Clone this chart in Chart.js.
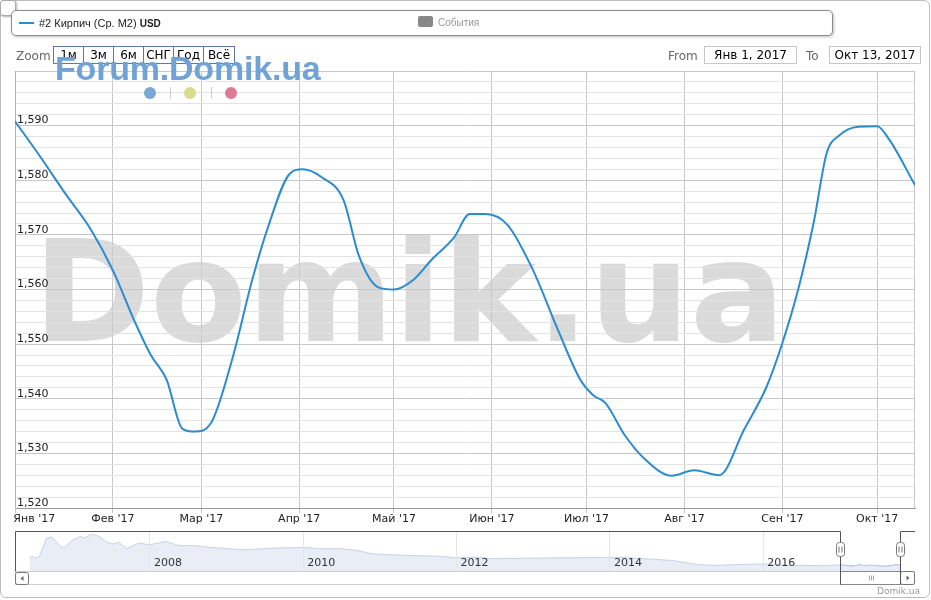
<!DOCTYPE html>
<html>
<head>
<meta charset="utf-8">
<script src="https://cdn.jsdelivr.net/npm/chart.js@4.4.1/dist/chart.umd.min.js"></script>
<style>
  body { margin: 0; background: #fff; font-family: "DejaVu Sans", sans-serif; }
  #wrap { position: relative; width: 931px; height: 600px; overflow: hidden; }
  #frame { position: absolute; left: 0; top: 0; width: 930px; height: 598px; box-sizing: border-box;
           border: 1px solid #bdbdbd; border-radius: 6px; }
  canvas { position: absolute; left: 0; }
  #priceChart { top: 0; }
  #navChart { top: 528px; }
  #corner { position: absolute; left: 0; top: 0; width: 16px; height: 16px; box-sizing: border-box;
            border: 1px solid #aaa; border-radius: 3px; background: #fff; box-shadow: 1px 1px 2px rgba(0,0,0,.3); }
  #legend { position: absolute; left: 11px; top: 10px; width: 822px; height: 26px; box-sizing: border-box;
            border: 1px solid #8c8c8c; border-radius: 5px; background: #fff; box-shadow: 1px 1px 3px rgba(0,0,0,.25);
            font-family: "Liberation Sans", Arial, sans-serif; }
  #legend .swatch { position: absolute; left: 7px; top: 11px; width: 15px; height: 2px; background: #2b8cd0; }
  #legend .name { position: absolute; left: 27px; top: 5px; font-size: 11px; line-height: 14px; color: #222; }
  #legend .name b { font-size: 10px; }
  #legend .ev-box { position: absolute; left: 406px; top: 5px; width: 15px; height: 11px; border-radius: 2px; background: #888; }
  #legend .ev { position: absolute; left: 426px; top: 5px; font-size: 10px; line-height: 14px; color: #999; }
  .lbl { position: absolute; top: 49px; font-size: 12px; line-height: 15px; color: #666; }
  .btn { position: absolute; top: 46px; height: 18px; box-sizing: border-box; border: 1px solid #5b7ba6;
         font-size: 12px; line-height: 16px; text-align: center; color: #000; background: #fff; }
  .inp { position: absolute; top: 46px; height: 18px; box-sizing: border-box; border: 1px solid #c8c8c8;
         font-size: 12px; line-height: 16px; text-align: center; color: #000; background: #fff; }
  #forum { position: absolute; left: 55px; top: 51px; font: bold 34px/34px "Liberation Sans", Arial, sans-serif;
           color: #6fa2d6; white-space: nowrap; letter-spacing: -0.2px; }
  .dot { position: absolute; top: 87px; width: 12px; height: 12px; border-radius: 6px; }
  .sep { position: absolute; top: 87px; width: 1px; height: 12px; background: #ccc; }
  #credit { position: absolute; right: 11px; top: 585px; font-size: 9px; line-height: 12px; color: #999; }
</style>
</head>
<body>
<div id="wrap">
  <div id="frame"></div>
  <canvas id="priceChart" width="931" height="530"></canvas>
  <canvas id="navChart" width="931" height="72"></canvas>
  <div id="corner"></div>

  <div id="legend">
    <div class="swatch"></div>
    <div class="name">#2 Кирпич (Ср. М2) <b>USD</b></div>
    <div class="ev-box"></div>
    <div class="ev">События</div>
  </div>

  <div class="lbl" style="left:16px">Zoom</div>
  <div class="btn" style="left:53px;width:31px">1м</div>
  <div class="btn" style="left:83px;width:31px">3м</div>
  <div class="btn" style="left:113px;width:31px">6м</div>
  <div class="btn" style="left:143px;width:31px">СНГ</div>
  <div class="btn" style="left:173px;width:31px">Год</div>
  <div class="btn" style="left:203px;width:32px">Всё</div>

  <div class="lbl" style="left:668px">From</div>
  <div class="inp" style="left:704px;width:93px">Янв 1, 2017</div>
  <div class="lbl" style="left:806px">To</div>
  <div class="inp" style="left:829px;width:92px">Окт 13, 2017</div>

  <div id="forum">Forum.Domik.ua</div>
  <div class="dot" style="left:144px;background:#7aa7d6"></div>
  <div class="sep" style="left:170px"></div>
  <div class="dot" style="left:184px;background:#d8dc8c"></div>
  <div class="sep" style="left:211px"></div>
  <div class="dot" style="left:225px;background:#dd7b97"></div>

  <div id="credit">Domik.ua</div>
</div>

<script>
// price of brick, USD per m2, 2017
const dates = ['2017-01-01', '2017-01-09', '2017-01-17', '2017-01-25', '2017-02-01', '2017-02-08',
  '2017-02-13', '2017-02-18', '2017-02-23', '2017-02-27', '2017-03-04', '2017-03-11', '2017-03-17',
  '2017-03-22', '2017-03-29', '2017-04-02', '2017-04-08', '2017-04-15', '2017-04-20', '2017-04-26',
  '2017-05-01', '2017-05-07', '2017-05-13', '2017-05-20', '2017-05-25', '2017-05-30', '2017-06-06',
  '2017-06-14', '2017-06-22', '2017-06-29', '2017-07-03', '2017-07-07', '2017-07-13', '2017-07-19',
  '2017-07-28', '2017-08-04', '2017-08-12', '2017-08-20', '2017-08-27', '2017-09-01', '2017-09-06',
  '2017-09-11', '2017-09-15', '2017-09-19', '2017-09-25', '2017-10-01', '2017-10-05', '2017-10-13'];
const prices = [1590.8, 1584.3, 1577.5, 1571.0, 1563.5, 1554.0,
  1548.0, 1543.5, 1534.5, 1534.0, 1535.5, 1547.7, 1561.5,
  1571.2, 1581.2, 1582.0, 1580.6, 1576.4, 1566.0, 1560.4,
  1560.0, 1561.7, 1565.5, 1569.5, 1573.8, 1573.8, 1571.8,
  1563.6, 1552.5, 1543.5, 1540.7, 1539.2, 1533.4, 1529.2,
  1525.9, 1526.9, 1526.0, 1534.5, 1542.2, 1550.2, 1560.0,
  1572.5, 1584.9, 1588.2, 1589.8, 1589.9, 1587.3, 1579.1];

// x axis: month ticks
const monthTicks = ['2017-01-01', '2017-02-01', '2017-03-01', '2017-04-01', '2017-05-01',
  '2017-06-01', '2017-07-01', '2017-08-01', '2017-09-01', '2017-10-01'];
const monthLabels = ["Янв '17", "Фев '17", "Мар '17", "Апр '17", "Май '17",
  "Июн '17", "Июл '17", "Авг '17", "Сен '17", "Окт '17"];
const rangeFrom = '2017-01-01';
const rangeTo = '2017-10-13';
const yMin = 1520, yMax = 1600, yStep = 2, yMajor = 10;

// navigator: long history (decimal years), USD estimates
const historyYears = [2006.43, 2006.46, 2006.50, 2006.56, 2006.65, 2006.72, 2006.85, 2006.89, 2006.98,
  2007.09, 2007.15, 2007.24, 2007.31, 2007.46, 2007.52, 2007.59, 2007.70, 2007.85, 2008.00, 2008.20,
  2008.39, 2008.56, 2008.78, 2009.22, 2009.65, 2010.00, 2010.22, 2010.48, 2010.70, 2010.91, 2011.39,
  2011.82, 2012.00, 2012.26, 2012.48, 2013.13, 2014.13, 2014.50, 2014.80, 2015.15, 2015.37, 2015.98,
  2016.37, 2016.80];
const historyPrices = [1945, 2025, 1945, 2025, 2945, 2995, 2475, 2475, 2825,
  3025, 2945, 3145, 3075, 2695, 2645, 2745, 2410, 2695, 2610, 2775,
  2560, 2575, 2475, 2360, 2445, 2475, 2410, 2410, 2325, 2145, 2075,
  2025, 1945, 1995, 1910, 1945, 1975, 1895, 1825, 1610, 1575, 1645,
  1575, 1560];
const navYears = [2008, 2010, 2012, 2014, 2016];
const navRange = [2006.24, 2017.98];
const navPriceRange = [1290, 3300];

// helpers
const toDay = s => Date.UTC(+s.slice(0, 4), +s.slice(5, 7) - 1, +s.slice(8, 10)) / 864e5;
const toYear = s => +s.slice(0, 4) + (toDay(s) - toDay(s.slice(0, 4) + '-01-01')) / 365;

const font11 = { family: 'DejaVu Sans', size: 11 };

// big grey watermark behind the grid
const watermark = {
  id: 'watermark',
  beforeDraw(chart) {
    const c = chart.ctx;
    c.save();
    c.font = 'bold 141px "DejaVu Sans"';
    c.fillStyle = '#dadada';
    c.fillText('Domik.ua', 33, 341);
    c.restore();
  }
};

// right edge of the plot
const plotBorder = {
  id: 'plotBorder',
  beforeDatasetsDraw(chart) {
    const c = chart.ctx, a = chart.chartArea;
    c.save();
    c.strokeStyle = '#c8c8c8';
    c.beginPath();
    c.moveTo(Math.round(a.right) - 0.5, a.top);
    c.lineTo(Math.round(a.right) - 0.5, a.bottom);
    c.stroke();
    c.restore();
  }
};

let mainCtx = document.getElementById('priceChart').getContext('2d');
let priceChart = new Chart(mainCtx, {
  type: 'line',
  data: {
    datasets: [{
      label: '#2 Кирпич (Ср. М2) USD',
      data: dates.map((d, i) => ({ x: toDay(d), y: prices[i] })),
      borderColor: '#2b8cd0',
      borderWidth: 2,
      pointRadius: 0,
      cubicInterpolationMode: 'monotone',
      fill: false
    }]
  },
  options: {
    responsive: false,
    animation: false,
    layout: { autoPadding: false, padding: { left: 15, right: 16, top: 71, bottom: 0 } },
    plugins: { legend: { display: false }, tooltip: { enabled: false } },
    scales: {
      x: {
        type: 'linear',
        min: toDay(rangeFrom),
        max: toDay(rangeTo),
        afterBuildTicks: s => { s.ticks = monthTicks.map(d => ({ value: toDay(d) })); },
        afterFit: s => { s.height = 22; s.paddingLeft = 0; s.paddingRight = 0; },
        grid: { color: '#c8c8c8', tickLength: 5, tickColor: '#c8c8c8' },
        border: { color: '#999' },
        ticks: {
          padding: 0, maxRotation: 0, autoSkip: false, color: '#222', font: font11,
          // first label is pushed right so it stays inside the frame
          callback: (v, i) => i === 0 ? '\u2002'.repeat(7) + monthLabels[0] : monthLabels[i]
        }
      },
      y: {
        min: yMin,
        max: yMax,
        afterFit: s => { s.width = 0; s.paddingTop = 0; s.paddingBottom = 0; },
        grid: {
          drawTicks: false,
          color: c => (c.tick && c.tick.value % yMajor === 0) ? '#c8c8c8' : '#e2e2e2'
        },
        border: { color: '#b4b4b4' },
        ticks: {
          stepSize: yStep, mirror: true, padding: 2, labelOffset: -5, autoSkip: false,
          color: '#222', font: font11,
          callback: v => (v % yMajor === 0 && v < yMax) ? v.toLocaleString('en-US') : ''
        }
      }
    }
  },
  plugins: [watermark, plotBorder]
});

// navigator handles, outline and scrollbar
const navChrome = {
  id: 'navChrome',
  afterDraw(chart) {
    const c = chart.ctx, a = chart.chartArea, xs = chart.scales.x;
    const h1 = Math.round(xs.getPixelForValue(toYear(rangeFrom))) + 0.5;
    const h2 = Math.round(xs.getPixelForValue(toYear(rangeTo))) + 0.5;
    const left = Math.round(a.left) + 0.5, right = Math.round(a.right) - 0.5;
    const top = Math.round(a.top) + 0.5, bot = Math.round(a.bottom) + 0.5;
    const sbBot = bot + 13;
    c.save();
    c.lineWidth = 1;

    // scrollbar track
    c.strokeStyle = '#cfcfcf';
    c.strokeRect(left, bot, right - left, 13);

    // scrollbar thumb
    c.fillStyle = '#fff';
    c.strokeStyle = '#888';
    c.fillRect(h1, bot, h2 - h1, 13);
    c.strokeRect(h1, bot, h2 - h1, 13);
    c.strokeStyle = '#aaa';
    c.beginPath();
    const mid = Math.round((h1 + h2) / 2) + 0.5;
    [-2, 0, 2].forEach(d => { c.moveTo(mid + d, bot + 4); c.lineTo(mid + d, bot + 9); });
    c.stroke();

    // scrollbar buttons
    c.strokeStyle = '#777';
    c.beginPath(); c.roundRect(left, bot + 1, 13, 12, 2); c.stroke();
    c.beginPath(); c.roundRect(h2, bot, right - h2, 13, 2); c.stroke();
    c.fillStyle = '#666';
    c.beginPath(); c.moveTo(left + 5, bot + 7); c.lineTo(left + 8, bot + 4.5); c.lineTo(left + 8, bot + 9.5); c.fill();
    const rb = h2 + (right - h2) / 2;
    c.beginPath(); c.moveTo(rb + 2, bot + 6.5); c.lineTo(rb - 1, bot + 4); c.lineTo(rb - 1, bot + 9); c.fill();

    // outline around the unselected part
    c.strokeStyle = '#555';
    c.beginPath();
    c.moveTo(left, bot); c.lineTo(left, top); c.lineTo(h1, top); c.lineTo(h1, sbBot);
    c.moveTo(h2, sbBot); c.lineTo(h2, top); c.lineTo(right + 0.5, top);
    c.stroke();

    // handles
    const hy = top + 11;
    [h1, h2].forEach(h => {
      c.fillStyle = '#fff';
      c.strokeStyle = '#777';
      c.beginPath(); c.roundRect(h - 4, hy, 8, 14, 3); c.fill(); c.stroke();
      c.beginPath();
      c.moveTo(h - 1.5, hy + 4); c.lineTo(h - 1.5, hy + 10);
      c.moveTo(h + 1.5, hy + 4); c.lineTo(h + 1.5, hy + 10);
      c.stroke();
    });
    c.restore();
  }
};

let series2017 = dates.map((d, i) => ({ x: toYear(d), y: prices[i] }));
let navCtx = document.getElementById('navChart').getContext('2d');
let navChart = new Chart(navCtx, {
  type: 'line',
  data: {
    datasets: [{
      data: historyYears.map((y, i) => ({ x: y, y: historyPrices[i] })).concat(series2017),
      borderColor: '#c6d2e7',
      borderWidth: 1,
      backgroundColor: '#e8edf6',
      fill: 'start',
      pointRadius: 0
    }, {
      data: series2017,
      borderColor: '#4d77b1',
      borderWidth: 1,
      backgroundColor: '#a9bcdb',
      fill: 'start',
      pointRadius: 0
    }]
  },
  options: {
    responsive: false,
    animation: false,
    layout: { autoPadding: false, padding: { left: 15, right: 16, top: 3, bottom: 29 } },
    plugins: { legend: { display: false }, tooltip: { enabled: false } },
    scales: {
      x: {
        type: 'linear',
        min: navRange[0],
        max: navRange[1],
        afterBuildTicks: s => { s.ticks = navYears.map(v => ({ value: v })); },
        afterFit: s => { s.height = 0; s.paddingLeft = 0; s.paddingRight = 0; },
        grid: { color: '#e6e6e6', drawTicks: false, z: 1 },
        border: { display: false },
        ticks: {
          z: 1, mirror: true, align: 'start', labelOffset: 4, padding: 1, maxRotation: 0, autoSkip: false,
          color: '#333', font: font11, callback: v => String(v)
        }
      },
      y: { display: false, min: navPriceRange[0], max: navPriceRange[1] }
    }
  },
  plugins: [navChrome]
});
</script>
</body>
</html>
